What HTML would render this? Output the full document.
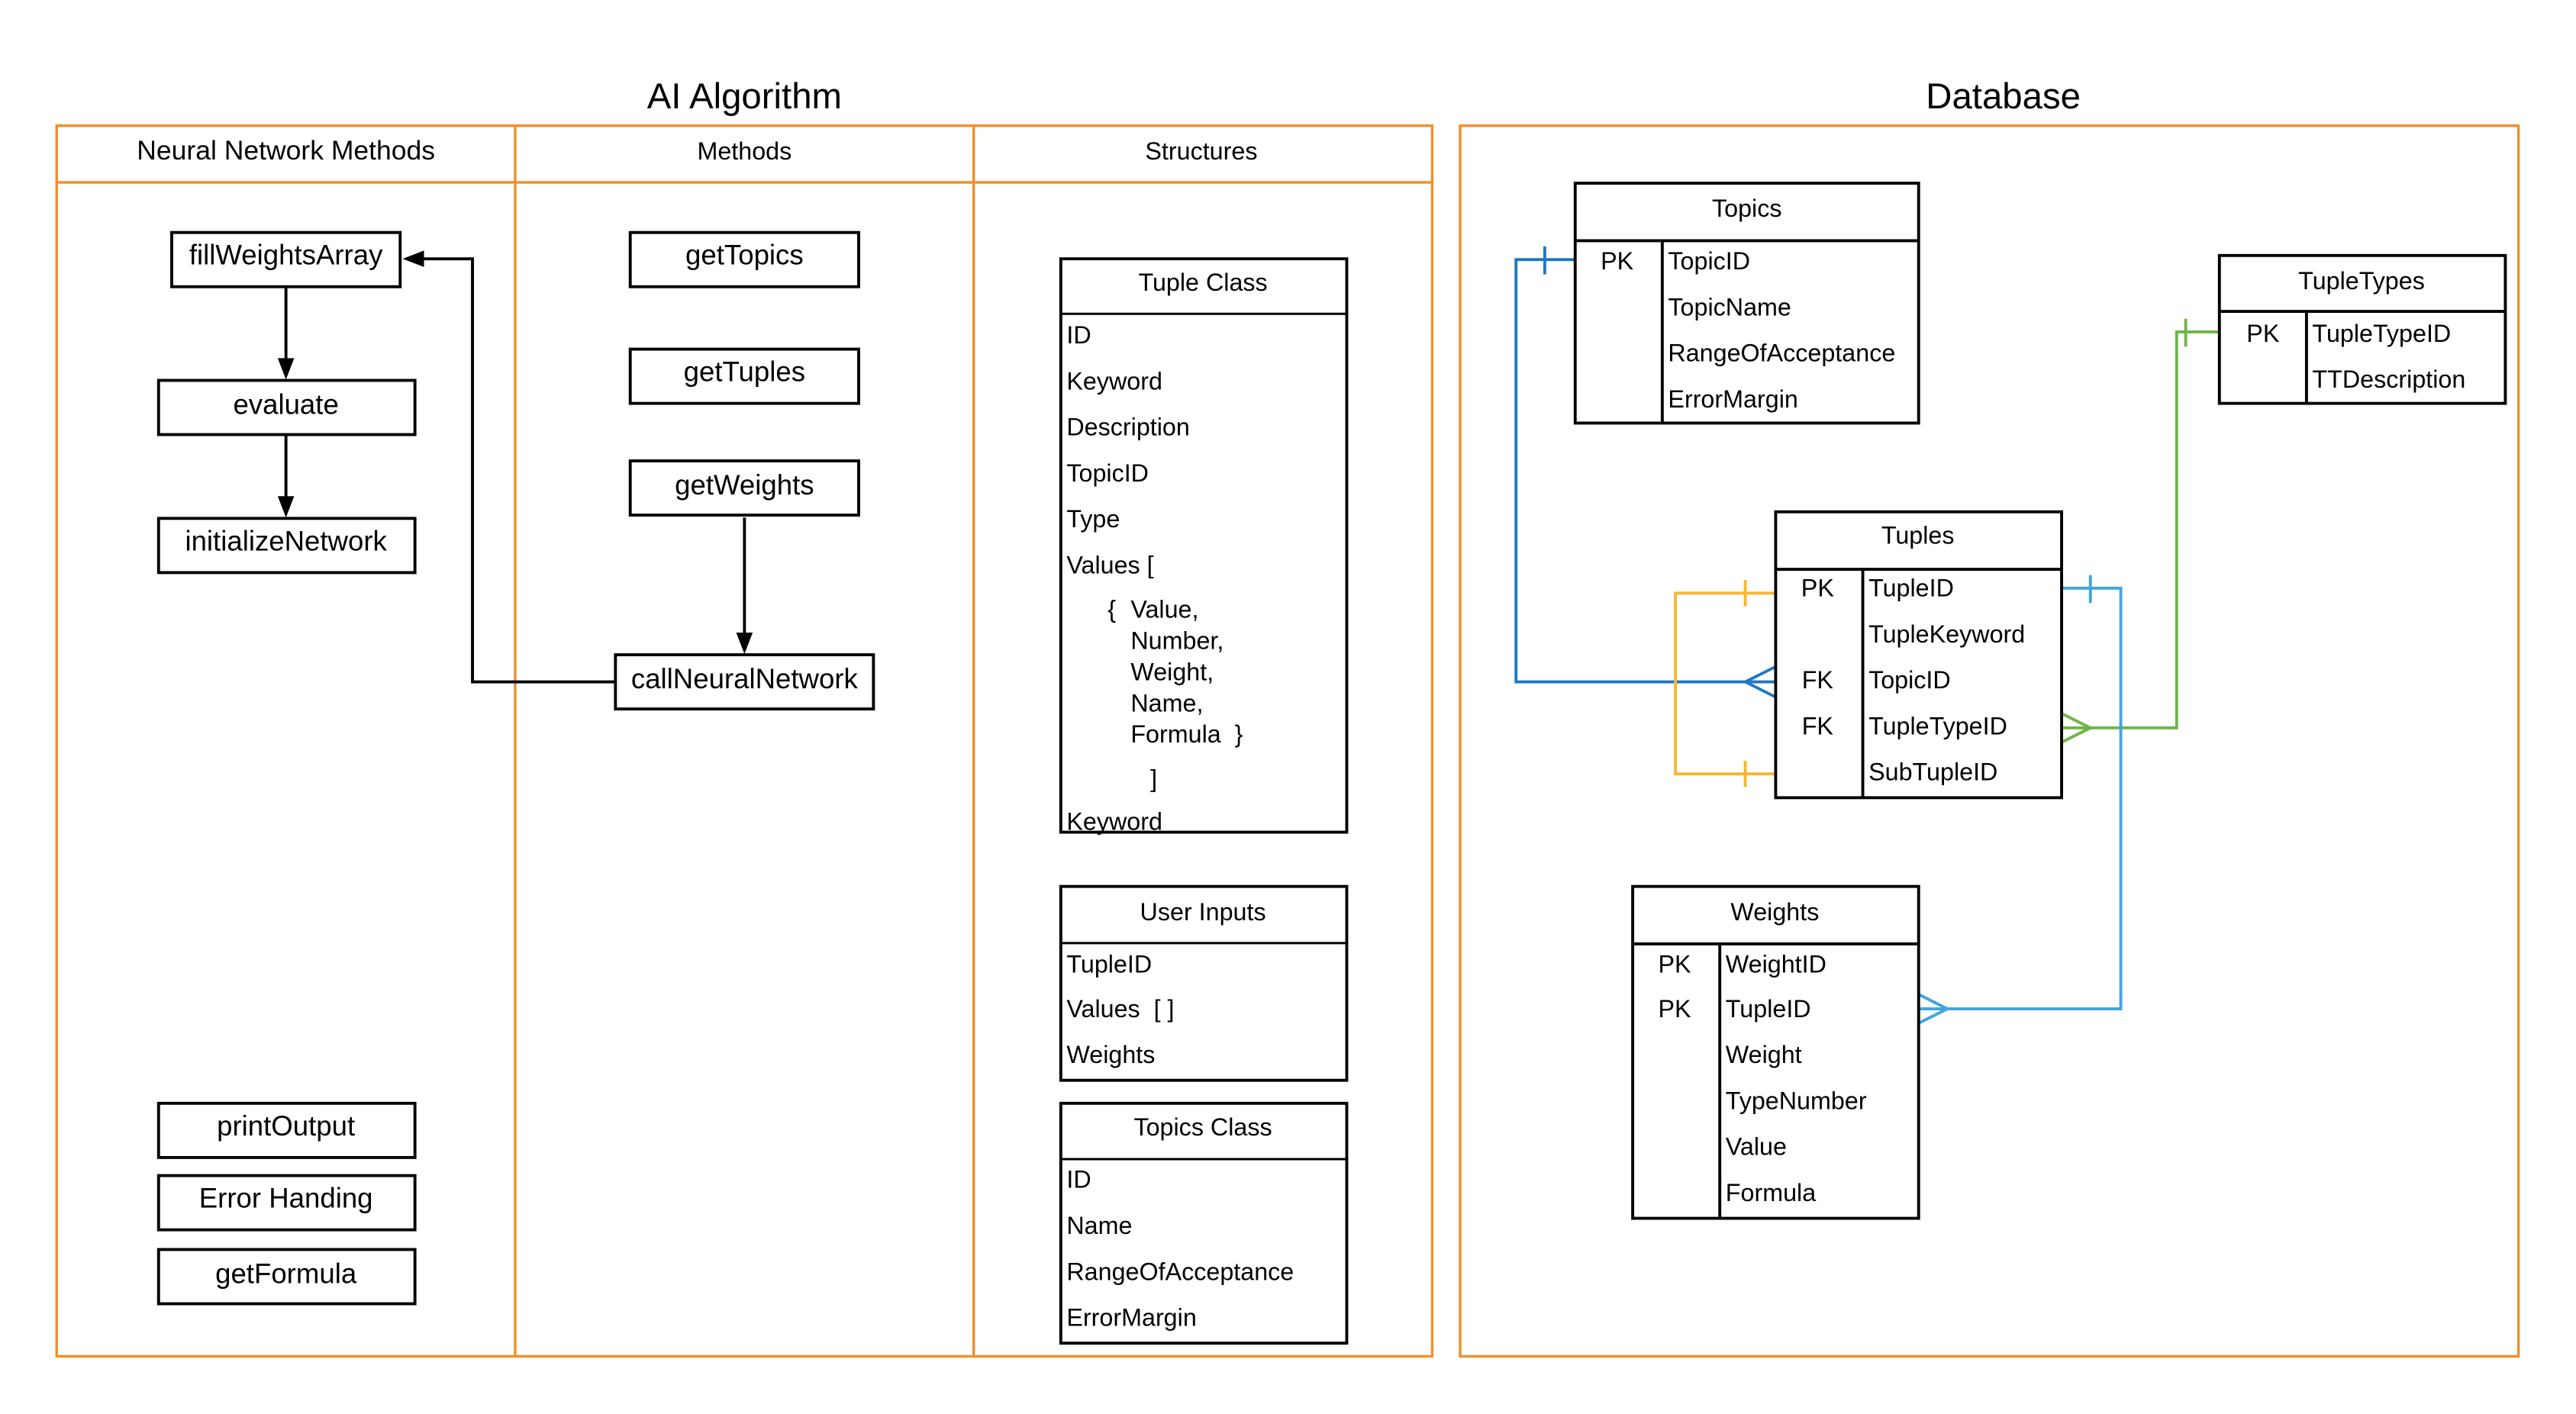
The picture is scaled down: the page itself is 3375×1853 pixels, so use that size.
<!DOCTYPE html>
<html><head><meta charset="utf-8"><style>html,body{margin:0;padding:0;background:#fff}svg{display:block}</style></head>
<body>
<svg width="3375" height="1853" viewBox="0 0 1567.5 860.6" xmlns="http://www.w3.org/2000/svg" font-family="Liberation Sans, sans-serif">
<rect width="1570" height="862" fill="#fff"/>
<g fill="none" stroke="#f0902a" stroke-width="1.6">
<rect x="34.5" y="76.5" width="837" height="749"/>
<line x1="34.5" y1="111" x2="871.5" y2="111"/>
<line x1="313.5" y1="76.5" x2="313.5" y2="825.5"/>
<line x1="592.5" y1="76.5" x2="592.5" y2="825.5"/>
<rect x="888.5" y="76.5" width="644" height="749"/>
</g>
<g fill="#000" text-anchor="middle">
<text x="453" y="66" font-size="22">AI Algorithm</text>
<text x="1219" y="66" font-size="22">Database</text>
<text x="174" y="97" font-size="16.5">Neural Network Methods</text>
<text x="453" y="97" font-size="15">Methods</text>
<text x="731" y="97" font-size="15">Structures</text>
</g>
<g fill="#fff" stroke="#000" stroke-width="1.8">
<rect x="104.5" y="141.5" width="139" height="33"/>
<rect x="96.5" y="231.5" width="156" height="33"/>
<rect x="96.5" y="315.5" width="156" height="33"/>
<rect x="96.5" y="671.5" width="156" height="33"/>
<rect x="96.5" y="715.5" width="156" height="33"/>
<rect x="96.5" y="760.5" width="156" height="33"/>
<rect x="383.5" y="141.5" width="139" height="33"/>
<rect x="383.5" y="212.5" width="139" height="33"/>
<rect x="383.5" y="280.5" width="139" height="33"/>
<rect x="374.5" y="398.5" width="157" height="33"/>
</g>
<g fill="#000" text-anchor="middle" font-size="17">
<text x="174" y="161">fillWeightsArray</text>
<text x="174" y="252">evaluate</text>
<text x="174" y="335">initializeNetwork</text>
<text x="174" y="691">printOutput</text>
<text x="174" y="735">Error Handing</text>
<text x="174" y="781">getFormula</text>
<text x="453" y="161">getTopics</text>
<text x="453" y="232">getTuples</text>
<text x="453" y="301">getWeights</text>
<text x="453" y="419">callNeuralNetwork</text>
</g>
<g stroke="#000" stroke-width="1.8" fill="none">
<line x1="174" y1="175" x2="174" y2="220"/>
<line x1="174" y1="265" x2="174" y2="304"/>
<line x1="453" y1="315" x2="453" y2="387"/>
<polyline points="374,415 287.5,415 287.5,157.5 258,157.5"/>
</g>
<g fill="#000">
<polygon points="169,218 179,218 174,231"/>
<polygon points="169,302 179,302 174,315"/>
<polygon points="448,385 458,385 453,398"/>
<polygon points="258,152.5 258,162.5 245,157.5"/>
</g>
<g fill="#fff" stroke="#000" stroke-width="1.8">
<rect x="645.5" y="157.5" width="174" height="349"/>
<rect x="645.5" y="539.5" width="174" height="118"/>
<rect x="645.5" y="671.5" width="174" height="146"/>
</g>
<g stroke="#000" stroke-width="1.4">
<line x1="645" y1="191" x2="819" y2="191"/>
<line x1="645" y1="574" x2="819" y2="574"/>
<line x1="645" y1="705.5" x2="819" y2="705.5"/>
</g>
<g fill="#000" font-size="15">
<text x="732" y="177" text-anchor="middle">Tuple Class</text>
<text x="649" y="209">ID</text>
<text x="649" y="237">Keyword</text>
<text x="649" y="265">Description</text>
<text x="649" y="293">TopicID</text>
<text x="649" y="321">Type</text>
<text x="649" y="349">Values [</text>
<text x="674" y="376">{</text>
<text x="688" y="376">Value,</text>
<text x="688" y="395">Number,</text>
<text x="688" y="414">Weight,</text>
<text x="688" y="433">Name,</text>
<text x="688" y="452">Formula&#160;&#160;}</text>
<text x="700" y="479">]</text>
<text x="649" y="505">Keyword</text>
<text x="732" y="560" text-anchor="middle">User Inputs</text>
<text x="649" y="592">TupleID</text>
<text x="649" y="619">Values&#160;&#160;[ ]</text>
<text x="649" y="647">Weights</text>
<text x="732" y="691" text-anchor="middle">Topics Class</text>
<text x="649" y="723">ID</text>
<text x="649" y="751">Name</text>
<text x="649" y="779">RangeOfAcceptance</text>
<text x="649" y="807">ErrorMargin</text>
</g>
<g fill="none" stroke-width="1.8">
<g stroke="#1f78c1">
<polyline points="958,158 922.5,158 922.5,415 1080,415"/>
<line x1="940" y1="150" x2="940" y2="167"/>
<polyline points="1080,406 1062,415 1080,424"/>
</g>
<g stroke="#f5b731">
<polyline points="1080,361 1019.5,361 1019.5,471 1080,471"/>
<line x1="1062" y1="353" x2="1062" y2="369"/>
<line x1="1062" y1="463" x2="1062" y2="479"/>
</g>
<g stroke="#6fb44a">
<polyline points="1350,202 1324.5,202 1324.5,443 1254,443"/>
<line x1="1330" y1="194" x2="1330" y2="211"/>
<polyline points="1254,434 1272,443 1254,452"/>
</g>
<g stroke="#3fa5de">
<polyline points="1254,358 1290.5,358 1290.5,614 1167,614"/>
<line x1="1272" y1="350" x2="1272" y2="367"/>
<polyline points="1167,605 1185,614 1167,623"/>
</g>
</g>
<g fill="none" stroke="#000" stroke-width="1.8">
<rect x="958.5" y="111.5" width="209" height="146"/>
<line x1="958" y1="146.5" x2="1167" y2="146.5"/>
<line x1="1011.5" y1="146" x2="1011.5" y2="258"/>
<rect x="1350.5" y="155.5" width="174" height="90"/>
<line x1="1350" y1="189.5" x2="1524" y2="189.5"/>
<line x1="1403.5" y1="189" x2="1403.5" y2="245"/>
<rect x="1080.5" y="311.5" width="174" height="174"/>
<line x1="1080" y1="346.5" x2="1254" y2="346.5"/>
<line x1="1133.5" y1="346" x2="1133.5" y2="485"/>
<rect x="993.5" y="539.5" width="174" height="202"/>
<line x1="993" y1="574.5" x2="1167" y2="574.5"/>
<line x1="1046.5" y1="574" x2="1046.5" y2="741"/>
</g>
<g fill="#000" font-size="15">
<text x="1063" y="132" text-anchor="middle">Topics</text>
<text x="984" y="164" text-anchor="middle">PK</text>
<text x="1015" y="164">TopicID</text>
<text x="1015" y="192">TopicName</text>
<text x="1015" y="220">RangeOfAcceptance</text>
<text x="1015" y="248">ErrorMargin</text>
<text x="1437" y="176" text-anchor="middle">TupleTypes</text>
<text x="1377" y="208" text-anchor="middle">PK</text>
<text x="1407" y="208">TupleTypeID</text>
<text x="1407" y="236">TTDescription</text>
<text x="1167" y="331" text-anchor="middle">Tuples</text>
<text x="1106" y="363" text-anchor="middle">PK</text>
<text x="1106" y="419" text-anchor="middle">FK</text>
<text x="1106" y="447" text-anchor="middle">FK</text>
<text x="1137" y="363">TupleID</text>
<text x="1137" y="391">TupleKeyword</text>
<text x="1137" y="419">TopicID</text>
<text x="1137" y="447">TupleTypeID</text>
<text x="1137" y="475">SubTupleID</text>
<text x="1080" y="560" text-anchor="middle">Weights</text>
<text x="1019" y="592" text-anchor="middle">PK</text>
<text x="1019" y="619" text-anchor="middle">PK</text>
<text x="1050" y="592">WeightID</text>
<text x="1050" y="619">TupleID</text>
<text x="1050" y="647">Weight</text>
<text x="1050" y="675">TypeNumber</text>
<text x="1050" y="703">Value</text>
<text x="1050" y="731">Formula</text>
</g>
</svg>
</body></html>
